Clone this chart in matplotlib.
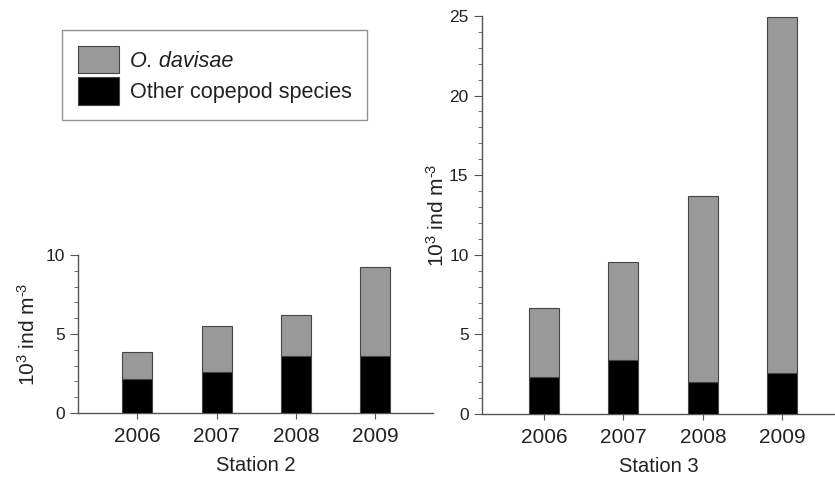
import matplotlib
matplotlib.use("Agg")
import matplotlib.pyplot as plt
from matplotlib.patches import Patch
from matplotlib.ticker import MultipleLocator

plt.rcParams['font.family'] = ['Liberation Sans', 'DejaVu Sans']
plt.rcParams['mathtext.fontset'] = 'custom'
plt.rcParams['mathtext.rm'] = 'Liberation Sans'
plt.rcParams['mathtext.it'] = 'Liberation Sans:italic'

years = ["2006", "2007", "2008", "2009"]
st2_other = [2.15, 2.6, 3.6, 3.6]
st2_total = [3.88, 5.5, 6.2, 9.25]
st3_other = [2.35, 3.4, 2.0, 2.6]
st3_total = [6.65, 9.53, 13.7, 24.95]

gray = "#999999"
spine_c = "#555555"
txt_c = "#222222"

fig = plt.figure(figsize=(8.35, 4.78), dpi=100)
ax1 = fig.add_axes([0.0934, 0.136, 0.425, 0.3305])
ax2 = fig.add_axes([0.577, 0.134, 0.4228, 0.8326])

def draw(ax, other, total, ymax, xlim, xlabel, lpad):
    x = list(range(len(years)))
    dav = [t - o for t, o in zip(total, other)]
    ax.bar(x, other, width=0.38, color="black", edgecolor="#444444", linewidth=0.8, zorder=3)
    ax.bar(x, dav, bottom=other, width=0.38, color=gray, edgecolor="#444444", linewidth=0.8, zorder=3)
    ax.set_xlim(*xlim)
    ax.set_ylim(0, ymax)
    ax.set_xticks(x)
    ax.set_xticklabels(years, fontsize=15, color=txt_c)
    ax.yaxis.set_major_locator(MultipleLocator(5))
    ax.yaxis.set_minor_locator(MultipleLocator(1))
    ax.tick_params(axis='y', which='major', length=6, color=spine_c, labelsize=12.5, labelcolor=txt_c)
    ax.tick_params(axis='y', which='minor', length=3, color=spine_c)
    ax.tick_params(axis='x', length=4, color=spine_c, pad=6)
    for s in ["top", "right"]:
        ax.spines[s].set_visible(False)
    for s in ["left", "bottom"]:
        ax.spines[s].set_color(spine_c)
        ax.spines[s].set_linewidth(1.0)
    ax.set_xlabel(xlabel, fontsize=14.5, color=txt_c, labelpad=7)
    ax.set_ylabel(r"10$^{3}$ ind m$^{\text{-3}}$", fontsize=15, color=txt_c, labelpad=lpad)

draw(ax1, st2_other, st2_total, 10, (-0.75, 3.73), "Station 2", 5)
draw(ax2, st3_other, st3_total, 25, (-0.78, 3.66), "Station 3", 1)

handles = [Patch(facecolor=gray, edgecolor="#444444", linewidth=0.8),
           Patch(facecolor="black", edgecolor="#444444", linewidth=0.8)]
leg = fig.legend(handles, ["O. davisae", "Other copepod species"],
                 loc="upper left", bbox_to_anchor=(62/835, 1 - 30/478),
                 fontsize=15.6, frameon=True, fancybox=False,
                 handlelength=1.9, handleheight=1.6, handletextpad=0.5,
                 borderpad=0.72, labelspacing=0.15, borderaxespad=0)
leg.get_frame().set_edgecolor("#777777")
leg.get_frame().set_linewidth(1.0)
leg.get_texts()[0].set_fontstyle("italic")
for t in leg.get_texts():
    t.set_color(txt_c)

fig.savefig("out.png", dpi=100)
